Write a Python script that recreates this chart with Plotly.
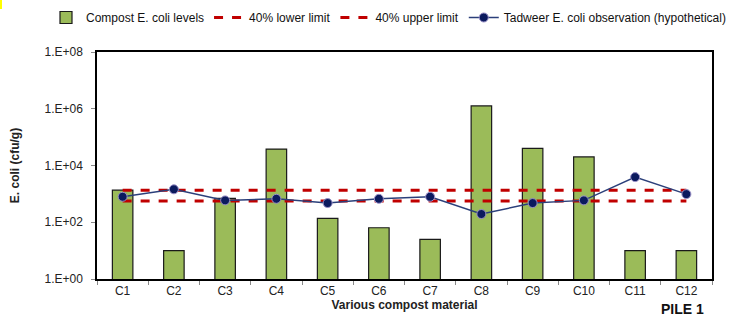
import plotly.graph_objects as go

categories = ["C1", "C2", "C3", "C4", "C5", "C6", "C7", "C8", "C9", "C10", "C11", "C12"]
compost_levels = [1350, 10, 690, 38000, 137, 64, 25, 1260000, 40000, 20000, 10, 10]
lower_limit = [560] * 12
upper_limit = [1330] * 12
tadweer_obs = [790, 1450, 590, 670, 475, 670, 790, 195, 475, 590, 3900, 980]
y_tick_vals = [1, 100, 10000, 1000000, 100000000]
y_tick_text = ["1.E+00", "1.E+02", "1.E+04", "1.E+06", "1.E+08"]

font = "Liberation Sans, Arial, sans-serif"
PW, PH = 615, 227  # plot area size in px

fig = go.Figure()
fig.add_trace(go.Bar(
    x=categories, y=compost_levels, name="Compost E. coli levels",
    marker=dict(color="#9BBB59", line=dict(color="#1a1a1a", width=1.2)),
    width=0.4,
))
fig.add_trace(go.Scatter(
    x=categories, y=lower_limit, name="40% lower limit", mode="lines",
    line=dict(color="#C00000", width=3, dash="dash"),
))
fig.add_trace(go.Scatter(
    x=categories, y=upper_limit, name="40% upper limit", mode="lines",
    line=dict(color="#C00000", width=3, dash="dash"),
))
fig.add_trace(go.Scatter(
    x=categories, y=tadweer_obs, name="Tadweer E. coli observation (hypothetical)",
    mode="lines+markers",
    line=dict(color="#2B3F7A", width=1.5),
    marker=dict(color="#0B1A5E", size=9, line=dict(color="#9A90C8", width=1)),
))

fig.update_layout(
    width=729, height=317,
    margin=dict(l=97, r=17, t=52, b=38, autoexpand=False),
    paper_bgcolor="white", plot_bgcolor="white",
    font=dict(family=font, size=11, color="#222"),
    showlegend=True,
    legend=dict(orientation="h", x=(46 - 97) / PW, xanchor="left",
                y=1 + (52 - 3) / PH, yanchor="top",
                font=dict(size=12, color="#111"),
                itemwidth=30, tracegroupgap=0, bgcolor="rgba(0,0,0,0)"),
    xaxis=dict(
        type="category", range=[-0.5, 11.5],
        showline=True, linecolor="black", linewidth=1.5, mirror=True,
        ticks="outside", ticklen=4, tickcolor="#888", tickson="boundaries",
        tickfont=dict(size=12, color="#222"),
        title=dict(text="<b>Various compost material</b>", font=dict(size=12, color="#222"), standoff=0),
        showgrid=False,
    ),
    yaxis=dict(
        type="log", range=[0, 8],
        tickvals=y_tick_vals, ticktext=y_tick_text,
        showline=True, linecolor="black", linewidth=1.5, mirror=True,
        ticks="outside", ticklen=4, tickcolor="#888", ticklabelstandoff=6,
        tickfont=dict(size=12, color="#222"),
        title=dict(text="<b>E. coli (cfu/g)</b>", font=dict(size=12, color="#222"), standoff=22),
        showgrid=False, zeroline=False,
    ),
)

fig.add_annotation(text="<b>PILE 1</b>", xref="paper", yref="paper", x=(706 - 97) / PW,
                   y=-(309 - 279) / PH,
                   xanchor="right", yanchor="middle", showarrow=False,
                   font=dict(size=14, color="#111", family=font))
fig.update_layout(shapes=[dict(type="rect", xref="paper", yref="paper",
                               x0=-97 / PW, x1=-95 / PW, y0=1 + 52 / PH, y1=1 + 43 / PH,
                               fillcolor="#FFFF00", line=dict(width=0))])

fig.write_html("out.html", config={"displayModeBar": False},
               post_script="document.body.style.margin='0px';")
